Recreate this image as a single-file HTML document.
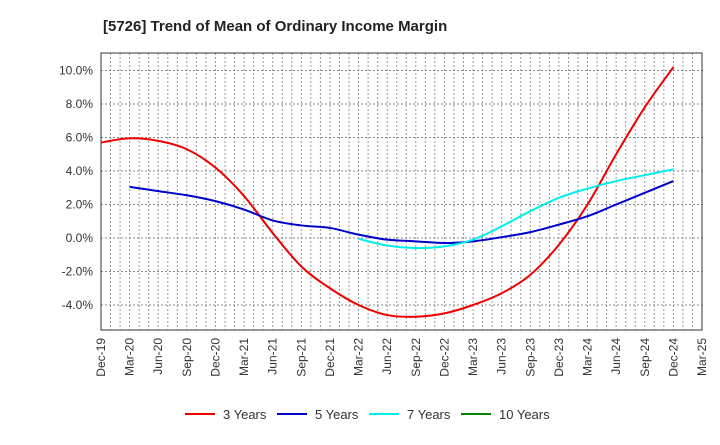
<!DOCTYPE html>
<html><head><meta charset="utf-8"><style>
body{margin:0;background:#fff;font-family:"Liberation Sans",Arial,sans-serif}
svg text{font-family:"Liberation Sans",Arial,sans-serif}
</style></head><body>
<svg id="c" width="720" height="440" xmlns="http://www.w3.org/2000/svg">
<text x="103" y="31" font-size="15" font-weight="bold" fill="#222">[5726]  Trend of Mean of Ordinary Income Margin</text>
<g id="grid"></g><g id="axes"></g><g id="series"></g><g id="legend"></g>
</svg>
<script>
const xLabels=["Dec-19","Mar-20","Jun-20","Sep-20","Dec-20","Mar-21","Jun-21","Sep-21","Dec-21","Mar-22","Jun-22","Sep-22","Dec-22","Mar-23","Jun-23","Sep-23","Dec-23","Mar-24","Jun-24","Sep-24","Dec-24","Mar-25"];
const yTicks=[-4,-2,0,2,4,6,8,10];
const s3=[5.7,5.95,5.8,5.3,4.2,2.5,0.3,-1.7,-3.0,-4.0,-4.6,-4.7,-4.5,-4.0,-3.3,-2.2,-0.4,2.0,5.0,7.8,10.2];
const s3Start=0;
const s5=[3.05,2.8,2.55,2.2,1.7,1.05,0.75,0.6,0.2,-0.1,-0.2,-0.3,-0.2,0.05,0.35,0.8,1.3,2.0,2.7,3.4];
const s5Start=1;
const s7=[-0.05,-0.45,-0.6,-0.5,-0.1,0.7,1.6,2.4,2.95,3.4,3.75,4.1];
const s7Start=9;
const s10=[];
const L=101,R=702,T=53,B=330;
const NS="http://www.w3.org/2000/svg";
const xq=i=>L+(R-L)*i/21;
const xm=m=>L+(R-L)*m/63;
const y=v=>238-v*16.75;
function mk(t,a,p){const e=document.createElementNS(NS,t);for(const k in a)e.setAttribute(k,a[k]);p.appendChild(e);return e;}
const g=document.getElementById('grid'),ax=document.getElementById('axes'),se=document.getElementById('series'),lg=document.getElementById('legend');
for(let m=1;m<63;m++){const l=mk('line',{x1:xm(m),x2:xm(m),y1:T,y2:B,stroke:'#999','stroke-dasharray':'2,2','stroke-width':1},g);

}
for(let v=-4;v<=10;v+=2){const l=mk('line',{x1:L,x2:R,y1:y(v),y2:y(v),stroke:'#888','stroke-dasharray':'2,2','stroke-width':1},g);

}
const fr=mk('rect',{x:L,y:T,width:R-L,height:B-T,fill:'none',stroke:'#333','stroke-width':1},ax);


yTicks.forEach(v=>{const t=mk('text',{x:L-8,y:y(v)+4,'text-anchor':'end','font-size':12,fill:'#333'},ax);t.textContent=v.toFixed(1)+'%';

});
xLabels.forEach((s,i)=>{const t=mk('text',{x:0,y:0,'text-anchor':'end','font-size':12,fill:'#333',transform:`translate(${xq(i)+4},${B+8}) rotate(-90)`},ax);t.textContent=s;

});
function path(d,st){const p=d.map((v,i)=>[xq(st+i),y(v)]);if(!p.length)return '';let s=`M${p[0][0]},${p[0][1]}`;
for(let i=0;i<p.length-1;i++){const p0=p[i-1]||p[i],p1=p[i],p2=p[i+1],p3=p[i+2]||p2;
s+=` C${p1[0]+(p2[0]-p0[0])/6},${p1[1]+(p2[1]-p0[1])/6} ${p2[0]-(p3[0]-p1[0])/6},${p2[1]-(p3[1]-p1[1])/6} ${p2[0]},${p2[1]}`;}return s;}
const series=[[s3,s3Start,'#e00','3 Years','series-3-years'],[s5,s5Start,'#00c','5 Years','series-5-years'],[s7,s7Start,'#0ee','7 Years','series-7-years'],[s10,0,'#080','10 Years','series-10-years']];
series.forEach(([d,st,c,n,dn],k)=>{if(d.length){const p=mk('path',{d:path(d,st),fill:'none',stroke:c,'stroke-width':2},se);

}
const lx=[185,277,369,461][k];
const li=mk('line',{x1:lx,x2:lx+30,y1:414,y2:414,stroke:c,'stroke-width':2},lg);


const t=mk('text',{x:lx+38,y:419,'font-size':13,fill:'#333'},lg);t.textContent=n;

});
</script>
</body></html>
